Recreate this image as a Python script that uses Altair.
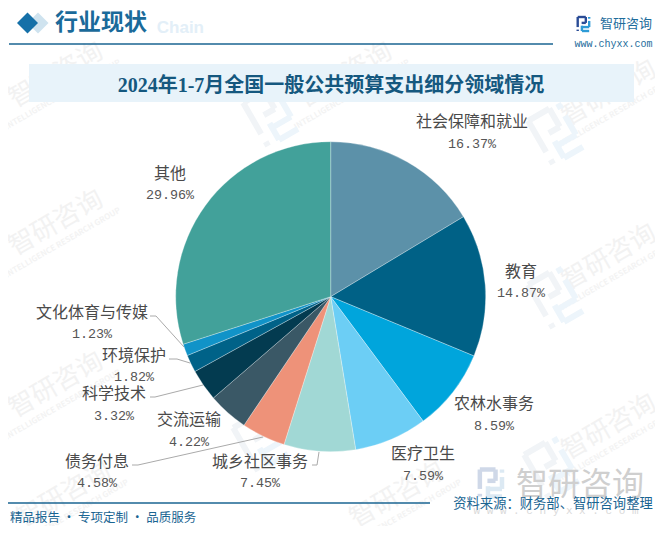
import math
import altair as alt
import pandas as pd

categories = ["社会保障和就业", "教育", "农林水事务", "医疗卫生", "城乡社区事务", "债务付息",
              "交流运输", "科学技术", "环境保护", "文化体育与传媒", "其他"]
shares = [16.37, 14.87, 8.59, 7.59, 7.45, 4.58, 4.22, 3.32, 1.82, 1.23, 29.96]
share_labels = ["16.37%", "14.87%", "8.59%", "7.59%", "7.45%", "4.58%", "4.22%", "3.32%", "1.82%", "1.23%", "29.96%"]
slice_colors = ["#5C91A9", "#006186", "#00A5DC", "#6CCEF5", "#A1D8D5", "#EE9279",
                "#3A5866", "#033B50", "#006288", "#1193C8", "#42A19A"]
title_text = "2024年1-7月全国一般公共预算支出细分领域情况"
header_text = "行业现状"
ghost_text = "Chain"
footer_text = "精品报告 · 专项定制 · 品质服务"
source_text = "资料来源：财务部、智研咨询整理"
brand_text = "智研咨询"
brand_url = "www.chyxx.com"
brand_url_spaced = "w w w . c h y x x . c o m"
brand_en = "INTELLIGENCE RESEARCH GROUP"

OFF = 8
BLUE = "#1A6592"
CJK = "Noto Sans CJK SC"
SERIF = "Liberation Serif, Noto Sans CJK SC"
MONO = "Liberation Mono, Noto Sans CJK SC"


def X(f="x"):
    return alt.X(f"{f}:Q", scale=None, axis=None)


def Y(f="y"):
    return alt.Y(f"{f}:Q", scale=None, axis=None)


def txt(s, x, y, size, color, font=CJK, weight="normal", align="center", angle=0):
    d = pd.DataFrame({"x": [x - OFF], "y": [y - OFF], "t": [s]})
    return alt.Chart(d).mark_text(fontSize=size, color=color, font=font, fontWeight=weight,
                                  align=align, baseline="middle", angle=angle
                                  ).encode(x=X(), y=Y(), text="t:N")


def rule(points, color, width):
    rows = [{"x": a[0] - OFF, "y": a[1] - OFF, "x2": b[0] - OFF, "y2": b[1] - OFF}
            for a, b in zip(points[:-1], points[1:])]
    return alt.Chart(pd.DataFrame(rows)).mark_rule(color=color, strokeWidth=width).encode(
        x=X(), y=Y(), x2="x2:Q", y2="y2:Q")


def rect(x0, y0, x1, y1, color):
    d = pd.DataFrame({"x": [x0 - OFF], "y": [y0 - OFF], "x2": [x1 - OFF], "y2": [y1 - OFF]})
    return alt.Chart(d).mark_rect(color=color).encode(x=X(), y=Y(), x2="x2:Q", y2="y2:Q")


LOGO_DARK = [[(0, 0), (.58, 0), (.58, .42), (.28, .42)], [(0, 0), (0, .72)], [(0, .9), (0, 1)]]
LOGO_LIGHT = [[(.82, 0), (.82, .12)], [(.82, .28), (.82, .72), (.32, .72)], [(.3, .62), (.3, 1), (.82, 1)]]


def logo(cx, cy, w, h, sw, c1, c2, angle=0):
    out = []
    a = math.radians(angle)
    for segs, c in ((LOGO_DARK, c1), (LOGO_LIGHT, c2)):
        for seg in segs:
            pts = []
            for u, v in seg:
                px, py = (u - .45) * w, (v - .5) * h
                pts.append((cx + px * math.cos(a) - py * math.sin(a),
                            cy + px * math.sin(a) + py * math.cos(a)))
            out.append(rule(pts, c, sw))
    return out


layers = []

# watermarks
wm_text_positions = [(56, 75), (56, 223), (56, 385), (64, 495),
                     (345, 75), (345, 235), (345, 390), (397, 495),
                     (609, 93), (609, 257), (609, 427)]
for x, y in wm_text_positions:
    layers.append(txt(brand_text, x, y, 26, "#F2F2F2", angle=330))
    layers.append(txt(brand_en, x + 7, y + 20, 8, "#F3F3F3", angle=330, weight="bold"))
wm_logo_positions = [(272, 115), (272, 280), (262, 440), (557, 133), (557, 297), (553, 467)]
for x, y in wm_logo_positions:
    layers += logo(x, y, 42, 50, 6, "#F1F4F7", "#EDF5FB", angle=-30)

# header
layers.append(txt(ghost_text, 204, 28, 17, "#E3EFF8", font="Liberation Sans", weight="bold", align="right"))
for cx, col in ((38, "#CFE3EF"), (27.5, "#1570A8")):
    d = pd.DataFrame({"x": [cx - OFF], "y": [23 - OFF]})
    layers.append(alt.Chart(d).mark_point(shape="diamond", size=441, filled=True, color=col, opacity=1)
                  .encode(x=X(), y=Y()))
layers.append(txt(header_text, 55, 23, 23, "#1A6A9A", align="left", weight="bold"))
layers.append(rule([(9, 44), (553, 44)], BLUE, 1.5))
layers += logo(584, 24, 14, 14, 2.4, "#2A4C96", "#2E9BD6")
layers.append(txt(brand_text, 626, 24, 13, "#1E6C9C"))
layers.append(txt(brand_url, 613.5, 44, 10, "#1E6C9C", font=MONO))

# title band
layers.append(rect(29, 64, 634, 102, "#E8F3FA"))
layers.append(txt(title_text, 331, 86, 20, "#15587F", font=SERIF, weight="bold"))

# pie
pie = pd.DataFrame({"cat": categories, "val": shares, "idx": list(range(len(categories)))})
layers.append(
    alt.Chart(pie).mark_arc(outerRadius=155, stroke="#FFFFFF", strokeWidth=0.3).encode(
        theta=alt.Theta("val:Q", stack=True),
        order=alt.Order("idx:Q"),
        color=alt.Color("cat:N", scale=alt.Scale(domain=categories, range=slice_colors), legend=None),
        x=alt.value(330.7 - OFF),
        y=alt.value(296.7 - OFF),
    )
)

# leader lines
GREY = "#AAAAAA"
leaders = [
    [(150, 316), (156, 316), (184, 347)],
    [(169, 359), (177, 359), (190, 363)],
    [(150, 397), (155, 397), (203, 385)],
    [(132, 465), (138, 465), (263, 437)],
    [(312, 465), (317, 465), (319, 452)],
]
for pts in leaders:
    layers.append(rule(pts, GREY, 1))

# slice labels
label_xy = [(472, 122, 144), (521, 272, 293), (494, 404, 426), (423, 454, 476), (260, 462, 483),
            (97, 462, 483), (189, 420, 442), (114, 394, 416), (134, 356, 377), (92, 313, 334), (170, 174, 195)]
for name, pct, (x, y1, y2) in zip(categories, share_labels, label_xy):
    layers.append(txt(name, x, y1, 16, "#4A4A4A"))
    layers.append(txt(pct, x, y2, 13.4, "#555555", font=MONO))

# footer
layers += logo(492, 483, 27, 27, 4.5, "#CFD8E8", "#DCE9F3")
layers.append(txt(brand_text, 580, 485, 32, "#CFCFCF"))
layers.append(txt(brand_url_spaced, 556, 511, 11, "#DADADA", font=MONO))
layers.append(rule([(8, 503), (430, 503)], BLUE, 1.5))
layers.append(txt(footer_text, 10, 518, 12.5, BLUE, align="left"))
layers.append(txt(source_text, 553, 504, 13.3, BLUE))

chart = alt.layer(*layers).properties(
    width=647, height=518, padding=0, autosize=alt.AutoSizeParams(type="none"),
    background="#FFFFFF",
).configure_view(stroke=None)

chart.save("out.html", embed_options={"renderer": "svg", "actions": False})
